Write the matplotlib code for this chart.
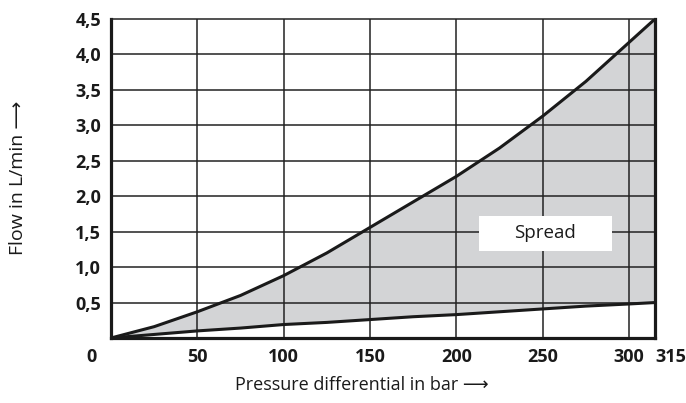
import matplotlib
matplotlib.use('Agg')
import matplotlib.pyplot as plt
from matplotlib.patches import Rectangle
import numpy as np

# values
pressure = [0, 25, 50, 75, 100, 125, 150, 175, 200, 225, 250, 275, 300, 315]
flow_max = [0, 0.16, 0.37, 0.6, 0.88, 1.2, 1.56, 1.92, 2.28, 2.68, 3.13, 3.62, 4.17, 4.5]
flow_min = [0, 0.05, 0.1, 0.14, 0.19, 0.22, 0.26, 0.3, 0.33, 0.37, 0.41, 0.45, 0.48, 0.5]

x_ticks = [50, 100, 150, 200, 250, 300, 315]
y_ticks = [0.5, 1.0, 1.5, 2.0, 2.5, 3.0, 3.5, 4.0, 4.5]
y_labels = ['0,5', '1,0', '1,5', '2,0', '2,5', '3,0', '3,5', '4,0', '4,5']

plt.rcParams['font.family'] = ['Open Sans', 'DejaVu Sans']

fig = plt.figure(figsize=(6.86, 4.03), dpi=100)
ax = fig.add_axes([0.1618, 0.1613, 0.793, 0.7916])
ax.set_xlim(0, 315)
ax.set_ylim(0, 4.5)

# Gitter
for xv in x_ticks[:-1]:
    ax.axvline(xv, color='#222222', lw=1.1, zorder=2)
for yv in y_ticks[:-1]:
    ax.axhline(yv, color='#222222', lw=1.1, zorder=2)

# Fläche und Kurven
ax.fill_between(pressure, flow_min, flow_max, color='#d3d4d6', lw=0, zorder=1)
ax.plot(pressure, flow_max, color='#1a1a1a', lw=2.2, zorder=3, solid_capstyle='butt')
ax.plot(pressure, flow_min, color='#1a1a1a', lw=2.2, zorder=3, solid_capstyle='butt')

# Kasten "Spread"
ax.add_patch(Rectangle((213, 1.23), 77, 0.49, facecolor='white', edgecolor='none', zorder=4))
ax.text(251.5, 1.475, 'Spread', ha='center', va='center', fontsize=13.5, color='#1a1a1a', zorder=5)

ax.set_xticks(x_ticks)
ax.set_xticklabels([str(v) for v in x_ticks], fontsize=13, fontweight='bold', color='#1a1a1a')
ax.set_yticks(y_ticks)
ax.set_yticklabels(y_labels, fontsize=13, fontweight='bold', color='#1a1a1a')
ax.tick_params(length=0, pad=7)
ax.get_xticklabels()[-1].set_ha('left')
ax.get_xticklabels()[-1].set_x(312)

ax.text(-11, -0.27, '0', ha='center', va='center', fontsize=13, fontweight='bold', color='#1a1a1a')

for side in ['left', 'bottom', 'right']:
    ax.spines[side].set_linewidth(2.3)
    ax.spines[side].set_color('#1a1a1a')
ax.spines['top'].set_linewidth(1.1)
ax.spines['top'].set_color('#222222')

fig.text(0.528, 0.045, 'Pressure differential in bar \u27f6', ha='center', va='center',
         fontsize=13, color='#1a1a1a')
fig.text(0.026, 0.56, 'Flow in L/min \u27f6', ha='center', va='center', rotation=90,
         fontsize=14, color='#1a1a1a')

plt.savefig('out.png', dpi=100)
